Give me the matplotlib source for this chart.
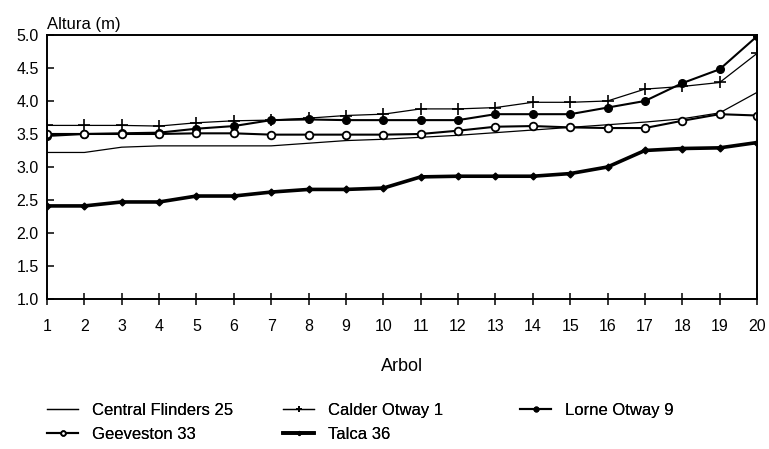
import matplotlib
matplotlib.use('Agg')
import matplotlib.pyplot as plt

plt.rcParams['font.family'] = ['Liberation Sans', 'DejaVu Sans']

# data
arboles = list(range(1, 21))
central_flinders = [3.22, 3.22, 3.30, 3.32, 3.32, 3.32, 3.32, 3.36, 3.40, 3.42,
                    3.45, 3.48, 3.52, 3.56, 3.60, 3.64, 3.68, 3.73, 3.82, 4.13]
calder_otway = [3.63, 3.63, 3.63, 3.62, 3.67, 3.70, 3.71, 3.74, 3.78, 3.80,
                3.88, 3.88, 3.90, 3.98, 3.98, 4.00, 4.18, 4.22, 4.28, 4.72]
lorne_otway = [3.47, 3.50, 3.51, 3.52, 3.58, 3.62, 3.71, 3.72, 3.71, 3.71,
               3.71, 3.71, 3.80, 3.80, 3.80, 3.90, 4.00, 4.27, 4.48, 4.98]
geeveston = [3.50, 3.50, 3.50, 3.50, 3.51, 3.51, 3.49, 3.49, 3.49, 3.49,
             3.50, 3.55, 3.61, 3.62, 3.60, 3.59, 3.59, 3.70, 3.80, 3.78]
talca = [2.41, 2.41, 2.47, 2.47, 2.56, 2.56, 2.62, 2.66, 2.66, 2.68,
         2.85, 2.86, 2.86, 2.86, 2.90, 3.00, 3.25, 3.28, 3.29, 3.37]

fig = plt.figure(figsize=(7.69, 4.49), dpi=100)
ax = fig.add_axes([0.0611, 0.3341, 0.9233, 0.588])

l_cf, = ax.plot(arboles, central_flinders, color='black', lw=0.9)
l_ca, = ax.plot(arboles, calder_otway, color='black', lw=0.9,
                marker='+', ms=8, mew=1.2)
l_lo, = ax.plot(arboles, lorne_otway, color='black', lw=1.5,
                marker='o', ms=5.5)
l_ge, = ax.plot(arboles, geeveston, color='black', lw=1.5,
                marker='o', ms=5.5, mfc='white', mew=1.3)
l_ta, = ax.plot(arboles, talca, color='black', lw=2.6,
                marker='D', ms=3.5)

ax.set_xlim(1, 20)
ax.set_ylim(1, 5)
ax.set_xticks(arboles)
ax.set_yticks([1.0, 1.5, 2.0, 2.5, 3.0, 3.5, 4.0, 4.5, 5.0])
ax.set_yticklabels(['%.1f' % v for v in ax.get_yticks()])
ax.tick_params(axis='x', direction='inout', length=9, width=1.1,
               labelsize=11.5, pad=10)
ax.tick_params(axis='y', direction='in', length=5, width=1.1,
               labelsize=11.5, pad=6)
for s in ax.spines.values():
    s.set_linewidth(1.4)

ax.set_xlabel('Arbol', fontsize=13, labelpad=17)
ax.text(0, 1.012, 'Altura (m)', transform=ax.transAxes, fontsize=12,
        ha='left', va='bottom')

# legend in three columns placed by hand
cols = [([l_cf, l_ge], ['Central Flinders 25', 'Geeveston 33'], 47),
        ([l_ca, l_ta], ['Calder Otway 1', 'Talca 36'], 283),
        ([l_lo], ['Lorne Otway 9'], 520)]
for hs, labs, xpx in cols:
    leg = fig.legend(hs, labs, loc='upper left',
                     bbox_to_anchor=(xpx / 769, 1 - 403 / 449),
                     frameon=False, fontsize=12, borderpad=0,
                     borderaxespad=0, handlelength=1.86, handletextpad=0.85,
                     labelspacing=0.52, markerscale=0.6)
    fig.add_artist(leg)

fig.savefig('out.png', dpi=100)
